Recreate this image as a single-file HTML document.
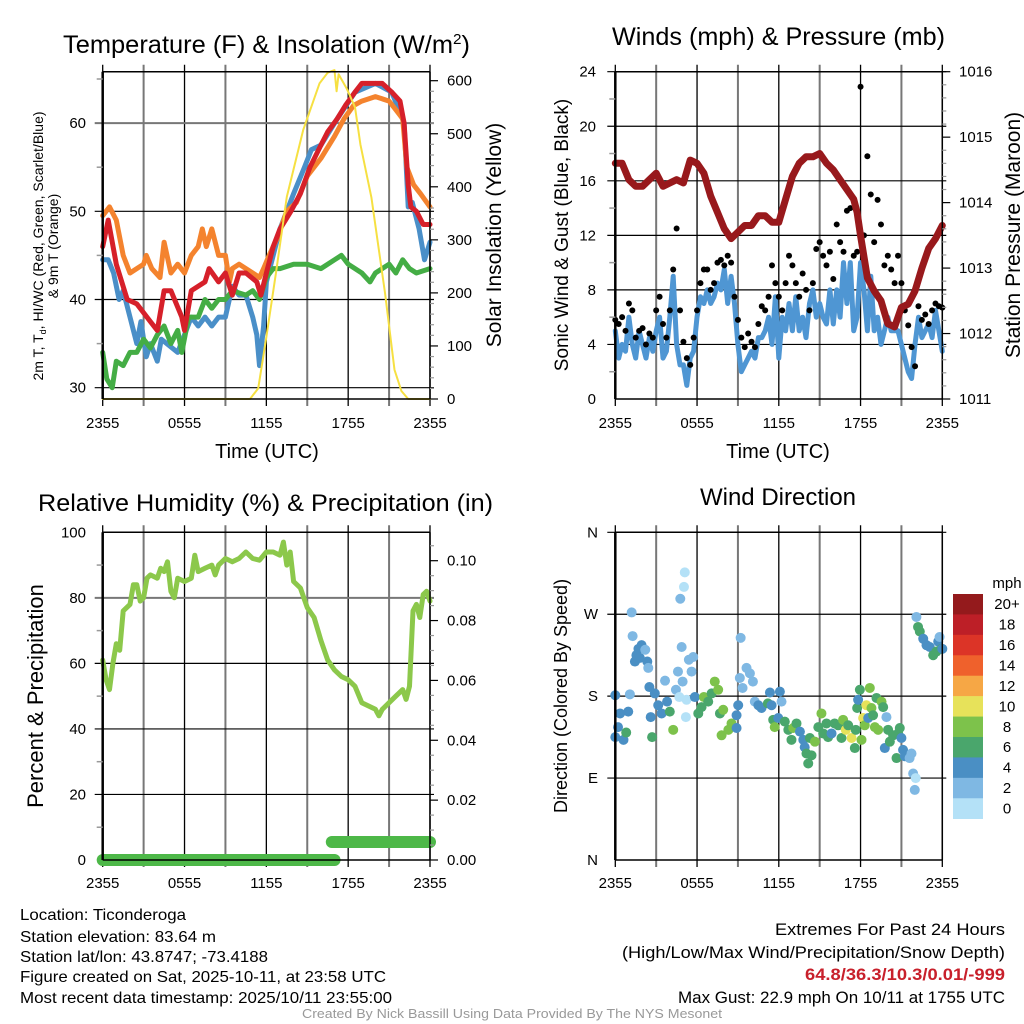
<!DOCTYPE html>
<html><head><meta charset="utf-8"><style>
html,body{margin:0;padding:0;background:#fff;}
svg{display:block;font-family:"Liberation Sans",Arial,sans-serif;}
</style></head><body>
<svg id="fig" width="1024" height="1024" viewBox="0 0 1024 1024" xmlns="http://www.w3.org/2000/svg">
<g id="layer-grid"></g>
<g id="layer-data"></g>
<g id="layer-axes"></g>

<text x="63" y="53" font-size="25" textLength="407" lengthAdjust="spacingAndGlyphs">Temperature (F) &amp; Insolation (W/m<tspan dy="-9" font-size="15">2</tspan><tspan dy="9">)</tspan></text>
<text x="612" y="45" font-size="25" textLength="333" lengthAdjust="spacingAndGlyphs">Winds (mph) &amp; Pressure (mb)</text>
<text x="38" y="511" font-size="24" textLength="455" lengthAdjust="spacingAndGlyphs">Relative Humidity (%) &amp; Precipitation (in)</text>
<text x="778" y="505" font-size="24" text-anchor="middle">Wind Direction</text>

<text x="267" y="458" font-size="20" text-anchor="middle">Time (UTC)</text>
<text x="778" y="458" font-size="20" text-anchor="middle">Time (UTC)</text>

<text transform="translate(43,246) rotate(-90)" font-size="14" text-anchor="middle">2m T, T<tspan font-size="9" dy="3">d</tspan><tspan dy="-3">, HI/WC (Red, Green, Scarlet/Blue)</tspan></text>
<text transform="translate(58,246) rotate(-90)" font-size="14" text-anchor="middle">&amp; 9m T (Orange)</text>
<text transform="translate(501,235) rotate(-90)" font-size="21" text-anchor="middle">Solar Insolation (Yellow)</text>
<text transform="translate(568,235) rotate(-90)" font-size="19" text-anchor="middle">Sonic Wind &amp; Gust (Blue, Black)</text>
<text transform="translate(1020,235) rotate(-90)" font-size="21" text-anchor="middle">Station Pressure (Maroon)</text>
<text transform="translate(43,696) rotate(-90)" font-size="22" text-anchor="middle">Percent &amp; Precipitation</text>
<text transform="translate(567,696) rotate(-90)" font-size="18" text-anchor="middle">Direction (Colored By Speed)</text>

<g font-size="16">
<text x="20" y="920" textLength="166" lengthAdjust="spacingAndGlyphs">Location: Ticonderoga</text>
<text x="20" y="942" textLength="196" lengthAdjust="spacingAndGlyphs">Station elevation: 83.64 m</text>
<text x="20" y="962" textLength="248" lengthAdjust="spacingAndGlyphs">Station lat/lon: 43.8747; -73.4188</text>
<text x="20" y="982" textLength="366" lengthAdjust="spacingAndGlyphs">Figure created on Sat, 2025-10-11, at 23:58 UTC</text>
<text x="20" y="1003" textLength="372" lengthAdjust="spacingAndGlyphs">Most recent data timestamp: 2025/10/11 23:55:00</text>
</g>
<g font-size="17">
<text x="775" y="935" textLength="230" lengthAdjust="spacingAndGlyphs">Extremes For Past 24 Hours</text>
<text x="622" y="958" textLength="383" lengthAdjust="spacingAndGlyphs">(High/Low/Max Wind/Precipitation/Snow Depth)</text>
<text x="805" y="980" textLength="200" lengthAdjust="spacingAndGlyphs" fill="#c8202b" font-weight="bold">64.8/36.3/10.3/0.01/-999</text>
<text x="678" y="1003" textLength="327" lengthAdjust="spacingAndGlyphs">Max Gust: 22.9 mph On 10/11 at 1755 UTC</text>
</g>
<text x="302" y="1018" font-size="13" fill="#999" textLength="420" lengthAdjust="spacingAndGlyphs">Created By Nick Bassill Using Data Provided By The NYS Mesonet</text>
</svg>
<script>
// ---------- data ----------
var xTickLabels = ["2355","0555","1155","1755","2355"];
var tempTicks = [30,40,50,60];
var solarTicks = [0,100,200,300,400,500,600];
var windTicks = [0,4,8,12,16,20,24];
var pressTicks = [1011,1012,1013,1014,1015,1016];
var rhTicks = [0,20,40,60,80,100];
var precipTicks = [0.00,0.02,0.04,0.06,0.08,0.10];
var dirTicks = [0,90,180,270,360];
var dirTickLabels = ["N","E","S","W","N"];

var redT = [0,0.4,1,1.8,2.5,3.5,4,4.5,5,5.8,6,6.5,7.5,7.8,8.5,9,9.3,9.5,10,10.5,11.3,11.6,12,12.5,13,13.8,14.5,15.2,16,16.5,17.2,17.8,18.5,19,20,20.5,21.2,21.8,22.1,22.4,22.6,23,23.5,24];
var redV = [46,49,44,40,39.5,37.5,36.5,41,41,38,36.5,41,42,43.5,42,43,41.5,40.5,43,43,42,40.5,43,46,48,50,52,55,57.5,59,60.5,62,63.5,64.5,64.5,64.5,63.5,62.5,60,53,50.5,50,48.5,48.5];
var orT = [0,0.5,1,1.5,2,3,3.2,3.6,4.2,4.5,5,5.5,6,6.5,7,7.3,7.6,8,8.5,9,9.3,9.5,10,11,11.5,11.8,12.2,12.8,13.5,14.2,15,16,17,17.7,18.4,19,20,21,21.5,22,22.3,22.8,23.3,24];
var orV = [49.5,50.5,49,45,43,44,45,43.5,42.5,46.5,43,44,43,45,46,48,46,48,45,45,42,43.5,44,43,42.5,43.5,45,47,50,51,54,56,58.5,60.5,62,62.5,63,62.5,61.5,60.5,55,53,52,50.5];
var blT = [0,0.4,0.8,1.2,1.5,2,2.5,2.8,3.2,3.5,4,4.3,5.5,6,6.5,7,7.5,8,8.5,9,9.5,10,10.5,11,11.3,11.5,11.8,12,12.5,13,13.5,14,14.8,15.3,16,17.2,18.5,20,21.2,22.1,22.4,22.7,23.2,23.6,24];
var blV = [44.5,44.5,43,40,41,38,35,37.5,33.5,35,33,35.5,34,36,38,37,38,37,38,38,41.5,40.5,40.5,38,36,32.5,37,42,45,48,50,52,55,57,57.5,60.5,63.5,64.5,63.5,60,50.5,51,48,44.5,46.5];
var grT = [0,0.3,0.7,1,1.5,2,2.5,3,3.5,4,4.5,5,5.5,5.8,6.3,7,7.5,8,8.5,9,9.5,10.5,11,11.5,12,12.5,13,14,15,16,17,17.5,18,19,19.6,20,21,21.5,22,22.5,23,24];
var grV = [34,31,30,33,32.5,34,34,35.5,34.5,36,37,35,36.5,34,38,38,40,39,40,40,41,40.5,41,40,42.5,43.5,43.5,44,44,43.5,44.5,45,44,43,42,43,44,43,44.5,43.5,43,43.5];
var solT = [0,10.8,11.4,12,12.7,13.5,14.7,15.9,16.5,17,17.15,17.3,17.9,18.5,18.9,19.7,20.7,21.4,21.9,22.4,24];
var solV = [0,0,20,117,237,381,507,595,615,620,580,612,585,550,480,380,200,55,15,0,0];

var windT = [0,0.25,0.5,0.75,1,1.25,1.5,1.75,2,2.25,2.5,2.75,3,3.25,3.5,3.75,4,4.25,4.5,4.75,5,5.25,5.5,5.75,6,6.25,6.5,6.75,7,7.25,7.5,7.75,8,8.25,8.5,8.75,9,9.25,9.5,9.75,10,10.25,10.5,10.75,11,11.25,11.5,11.75,12,12.25,12.5,12.75,13,13.25,13.5,13.75,14,14.25,14.5,14.75,15,15.25,15.5,15.75,16,16.25,16.5,16.75,17,17.25,17.5,17.75,18,18.25,18.5,18.75,19,19.25,19.5,19.75,20,20.25,20.5,20.75,21,21.25,21.5,21.75,22,22.25,22.5,22.75,23,23.25,23.5,23.75,24];
var windV = [5,3,4,3.5,6,4,3,5,4,3,4.5,3.5,5,6,3,3.5,6,9,4,2.5,2.5,1,3,3.5,6,7.5,7,8,7,7.5,8.5,8,9.5,7,9,7,4,2,2.5,3,3.5,3,4.5,4.5,5,6,4,7.5,3,6,5,7,5,7.5,5,6,4.5,7,8,6,7,6,5.5,8,5.5,8,6,10,7,10,5,6,10,8,5,9,5,6,4,5,6,5,5,5,4,3,2,1.5,4,6,4.5,5,5.5,4.5,6.5,5,3.5];
var gustV = [5.8,5.5,6,5,7,6.5,4.5,5,5.2,4,4.8,4.5,6.5,7.5,5.5,4.5,6.5,9.5,12.5,6.5,4.2,3,2.5,4.5,6.5,8.5,9.5,9.5,8,8.5,10,10.2,9.8,10.5,10,7.5,5.8,4.5,3.8,4.8,4.2,3.8,5.5,6.8,6.5,7.5,9.8,8.5,7.5,6.5,8.5,10.5,9.8,8.5,7.5,9.2,8,6.5,8.5,11,11.5,10.5,9.8,10.8,8.8,12.8,11.5,10.8,13.8,14,10.5,10.8,22.9,12,17.8,15,11.5,14.6,12.8,9.8,10.5,9.5,8.5,10.5,8.5,6.5,5.4,3.8,2.4,6.8,5.8,6.2,5.5,6.5,7,6.8,6.7];
var pressT = [0,0.5,1,1.5,2,2.5,3,3.5,4,4.5,5,5.5,6,6.5,7,7.5,8,8.5,9,9.5,10,10.5,11,11.5,12,12.5,13,13.5,14,14.5,15,15.5,16,16.5,17,17.5,17.75,18,18.5,19,19.5,20,20.5,21,21.5,22,22.5,23,23.5,24];
var pressV = [1014.6,1014.6,1014.35,1014.25,1014.25,1014.35,1014.45,1014.25,1014.3,1014.35,1014.3,1014.65,1014.6,1014.45,1014.1,1013.85,1013.6,1013.45,1013.55,1013.65,1013.65,1013.8,1013.8,1013.7,1013.7,1014.05,1014.4,1014.6,1014.7,1014.7,1014.75,1014.6,1014.5,1014.35,1014.2,1014.05,1013.85,1013.5,1012.85,1012.65,1012.5,1012.15,1012.1,1012.4,1012.45,1012.65,1013.0,1013.3,1013.45,1013.65];

var rhT = [0,0.25,0.5,0.75,1,1.25,1.5,2,2.25,2.5,2.75,3,3.25,3.5,4,4.25,4.5,4.75,5,5.25,5.5,6,6.5,6.75,7,7.5,8,8.25,8.5,9,9.5,10,10.5,11,11.5,12,12.5,13,13.25,13.5,13.75,14,14.5,15,15.5,16,16.5,17,17.5,18,18.5,19,19.5,20,20.25,20.5,21,21.5,22,22.25,22.5,22.75,23,23.25,23.5,23.75,24];
var rhV = [61,55,52,60,66,64,76,78,84,84,79,80,86,87,86,89,88,91,82,80,86,85,86,93,88,89,90,87,90,92,91,92,94,92,91.5,94,94,93,97,90,94,85,83,77,74,67,61,58,56,55,53,48,47,46,44,46,48,50,52,49,53,76,78,74,81,82,79];
var precipStart = [0,16.8];
var precipEnd = [17.0,24];
var precipV = [0.0,0.006];

var dirT = [0,0,0.2,0.35,0.6,0.8,0.95,1.07,1.2,1.27,1.44,1.55,1.7,1.8,1.93,2.2,2.35,2.42,2.5,2.6,2.7,2.9,3.15,3.4,3.65,3.8,4.0,4.25,4.45,4.6,4.7,4.77,4.87,4.94,5.04,5.1,5.18,5.23,5.4,5.6,5.72,5.84,6.09,6.33,6.5,6.82,7.07,7.3,7.55,7.68,7.8,7.92,8.3,8.53,8.9,8.9,9.02,9.14,9.2,9.34,9.63,9.88,10.1,10.24,10.5,10.73,11.2,11.35,11.47,11.59,11.7,11.96,12.08,12.2,12.44,12.7,12.93,13.06,13.3,13.55,13.8,13.9,14.03,14.16,14.28,14.4,14.65,14.9,15.13,15.26,15.5,15.62,15.87,16.1,16.36,16.6,16.72,16.92,17.09,17.34,17.58,17.65,17.75,17.82,17.95,18.07,18.19,18.31,18.43,18.56,18.68,18.8,18.92,19.05,19.17,19.29,19.54,19.66,19.78,19.9,20.02,20.15,20.39,20.64,20.76,20.88,21.0,21.12,21.25,21.37,21.6,21.74,21.86,21.98,22.05,22.1,22.22,22.35,22.6,22.84,23.08,23.33,23.57,23.7,23.8,23.94,24.0];
var dirV = [181,135,146,161,132,140,163,182,272,246,218,225,232,222,236,231,218,211,190,157,135,183,170,161,197,174,163,143,187,207,179,287,234,196,300,316,157,176,220,207,223,179,161,168,179,174,183,196,187,161,137,165,143,150,159,145,170,200,244,189,211,205,196,174,170,167,172,184,170,154,146,156,185,174,152,143,132,145,150,141,132,124,117,106,134,115,130,146,161,139,150,135,139,150,148,134,154,143,148,134,123,143,167,176,187,132,156,148,170,156,189,167,159,146,178,143,174,168,123,157,143,130,137,112,139,145,134,121,114,115,112,117,95,77,90,267,256,251,243,236,234,225,229,240,245,232,232];
var dirSpeed = [4,4,4,4,4,6,4,2,2,2,4,4,4,4,4,2,4,2,4,4,6,4,4,4,2,4,6,8,2,2,0,2,2,2,0,0,0,0,2,2,2,4,6,6,8,6,6,8,8,6,8,8,8,8,4,4,4,2,2,2,2,2,2,2,4,4,6,4,4,6,8,4,4,2,6,6,6,8,6,4,4,4,6,6,6,6,8,6,8,6,6,6,4,6,6,6,8,10,6,10,6,6,6,4,6,8,10,8,10,4,8,8,6,8,6,8,8,6,4,2,6,6,6,6,6,6,4,4,4,4,2,2,2,2,0,2,6,6,4,4,4,6,6,4,2,6,4];
var cbarLabels = ["20+","18","16","14","12","10","8","6","4","2","0"];
var cbarColors = ["#941a1c","#bd1f27","#dc3427","#ef612c","#f6a745","#e7e25a","#7dc24b","#4aa66c","#4a8fc4","#7fb8e3","#b4e1f7"];

// ---------- helpers ----------
var NS="http://www.w3.org/2000/svg";
var G=document.getElementById('layer-grid'),D=document.getElementById('layer-data'),A=document.getElementById('layer-axes');
function mk(tag,parent,attrs){var e=document.createElementNS(NS,tag);for(var k in attrs)e.setAttribute(k,attrs[k]);parent.appendChild(e);return e;}
function lin(d0,d1,r0,r1){return function(v){return r0+(v-d0)*(r1-r0)/(d1-d0);};}
var P1={x0:102.7,x1:430,y0:71.7,y1:399},P2={x0:615.3,x1:942.3,y0:71.7,y1:399},P3={x0:102.7,x1:430,y0:532.3,y1:860},P4={x0:615.3,x1:942.3,y0:532.3,y1:860};
[P1,P2,P3,P4].forEach(function(p){p.x=lin(0,24,p.x0,p.x1);});
var yTemp=lin(30,40,387.7,299.5), ySol=lin(0,600,399,80.7);
var yWind=lin(0,24,399,71.7), yPress=lin(1011,1016,399,71.7);
var yRH=lin(0,100,860,532.3), yPre=lin(0,0.1,860,560.7);
var yDir=lin(0,360,860,532.3);

function frame(p,hvals,hy,hdark,name){
  for(var i=0;i<=8;i++){var x=p.x(i*3);
    var l=mk('line',G,{x1:x,x2:x,y1:p.y0-7,y2:p.y1+7,stroke:(i%2?'#777':'#000'),'stroke-width':(i%2?2:1.3)});
    
    
  }
  hvals.forEach(function(v){var y=hy(v);
    var l=mk('line',G,{x1:p.x0-8,x2:p.x1+4,y1:y,y2:y,stroke:(hdark.indexOf(v)>=0?'#777':'#000'),'stroke-width':(hdark.indexOf(v)>=0?2:1.2)});
    
    
  });
  var t=mk('line',A,{x1:p.x0,x2:p.x1,y1:p.y0,y2:p.y0,stroke:'#000','stroke-width':1.5});
  
  
  var b=mk('line',A,{x1:p.x0,x2:p.x1,y1:p.y1,y2:p.y1,stroke:'#000','stroke-width':1.5});
  
  
  var lf=mk('line',A,{x1:p.x0,x2:p.x0,y1:p.y0,y2:p.y1,stroke:'#000','stroke-width':2.5});
  
  
  var rt=mk('line',A,{x1:p.x1,x2:p.x1,y1:p.y0,y2:p.y1,stroke:'#000','stroke-width':1.5});
  
  
}
function xlabels(p,name,y){
  xTickLabels.forEach(function(s,i){
    var t=mk('text',A,{x:p.x(i*6),y:y,'font-size':15,'text-anchor':'middle'});t.textContent=s;
    
    
  });
}
function ylabels(vals,fy,x,anchor,name,fmt,labels){
  vals.forEach(function(v,i){
    var t=mk('text',A,{x:x,y:fy(v)+5,'font-size':15,'text-anchor':anchor});t.textContent=labels?labels[i]:(fmt?fmt(v):v);
    
    
  });
}
function rticks(p,vals,fy,len,col){
  vals.forEach(function(v){var y=fy(v);var l=mk('line',A,{x1:p.x1,x2:p.x1+len,y1:y,y2:y,stroke:col||'#000','stroke-width':1.2});
    
    });
}
function lticks(p,vals,fy){
  vals.forEach(function(v){var y=fy(v);var l=mk('line',A,{x1:p.x0-6,x2:p.x0,y1:y,y2:y,stroke:'#999','stroke-width':1.5});
    
    });
}
function path(p,ts,vs,fy,col,w,name){
  var d='';for(var i=0;i<ts.length;i++){d+=(i?'L':'M')+p.x(ts[i]).toFixed(1)+','+fy(vs[i]).toFixed(1);}
  var e=mk('path',D,{d:d,fill:'none',stroke:col,'stroke-width':w,'stroke-linejoin':'round','stroke-linecap':'round'});
  
  
}

// ---------- panel 1 ----------
frame(P1,tempTicks.concat([]),yTemp,[60],'temperature');
lticks(P1,[35,45,55,65],yTemp);
rticks(P1,solarTicks,ySol,8);
rticks(P1,[20,40,60,80,120,140,160,180,220,240,260,280,320,340,360,380,420,440,460,480,520,540,560,580],ySol,4,'#999');
ylabels(tempTicks,yTemp,86,'end','temperature-y');
ylabels(solarTicks,ySol,447,'start','solar-y');
xlabels(P1,'temperature',428);
path(P1,blT,blV,yTemp,'#4a8fc8',5,'wind-chill-line');
path(P1,grT,grV,yTemp,'#44ad45',5,'dewpoint-line');
path(P1,orT,orV,yTemp,'#f4832e',5,'temp-9m-line');
path(P1,redT,redV,yTemp,'#d6202a',5,'temp-2m-line');
path(P1,solT,solV,ySol,'#f6e042',2,'solar-line');

// ---------- panel 2 ----------
frame(P2,windTicks.slice(1),yWind,[],'winds');
lticks(P2,[2,6,10,14,18,22],yWind);
rticks(P2,pressTicks,yPress,8);
rticks(P2,[1011.2,1011.4,1011.6,1011.8,1012.2,1012.4,1012.6,1012.8,1013.2,1013.4,1013.6,1013.8,1014.2,1014.4,1014.6,1014.8,1015.2,1015.4,1015.6,1015.8],yPress,4,'#999');
ylabels(windTicks,yWind,596,'end','wind-y');
ylabels(pressTicks,yPress,959,'start','pressure-y');
xlabels(P2,'winds',428);
path(P2,windT,windV,yWind,'#4f96d3',5,'sonic-wind-line');
for(var i=0;i<windT.length;i++){
  var c=mk('circle',D,{cx:P2.x(windT[i]),cy:yWind(gustV[i]),r:3,fill:'#000'});
  
  
}
path(P2,pressT,pressV,yPress,'#98191c',7,'pressure-line');

// ---------- panel 3 ----------
frame(P3,[20,40,60,80],yRH,[80],'humidity');
lticks(P3,[10,30,50,70,90],yRH);
rticks(P3,precipTicks,yPre,8);
rticks(P3,[0.005,0.01,0.015,0.025,0.03,0.035,0.045,0.05,0.055,0.065,0.07,0.075,0.085,0.09,0.095,0.105],yPre,4,'#999');
ylabels(rhTicks,yRH,86,'end','humidity-y');
ylabels(precipTicks,yPre,447,'start','precip-y',function(v){return v.toFixed(2);});
xlabels(P3,'humidity',888);
path(P3,rhT,rhV,yRH,'#8cc84b',5,'relative-humidity-line');
for(var i=0;i<precipV.length;i++){
  var e=mk('line',D,{x1:P3.x(precipStart[i]),x2:P3.x(precipEnd[i]),y1:yPre(precipV[i]),y2:yPre(precipV[i]),stroke:'#4db848','stroke-width':12,'stroke-linecap':'round'});
  
  
}

// ---------- panel 4 ----------
frame(P4,[90,180,270,360],yDir,[],'direction');
ylabels(dirTicks,yDir,598,'end','direction-y',null,dirTickLabels);
xlabels(P4,'direction',888);
for(var i=0;i<dirT.length;i++){
  var idx=Math.min(10,Math.floor(dirSpeed[i]/2));
  var c=mk('circle',D,{cx:P4.x(dirT[i]),cy:yDir(dirV[i]),r:5,fill:cbarColors[10-idx]});
  
  
}
var cb=mk('g',A,{});


var mph=mk('text',cb,{x:1007,y:588,'font-size':15,'text-anchor':'middle'});mph.textContent='mph';


var bh=(818.7-594)/11;
for(var i=0;i<11;i++){
  var r=mk('rect',cb,{x:953,y:594+i*bh,width:30,height:bh+0.3,fill:cbarColors[i]});
  
  
  var t=mk('text',cb,{x:1007,y:594+i*bh+bh/2+5,'font-size':15,'text-anchor':'middle'});t.textContent=cbarLabels[i];
  
  
}
</script>
</body></html>
